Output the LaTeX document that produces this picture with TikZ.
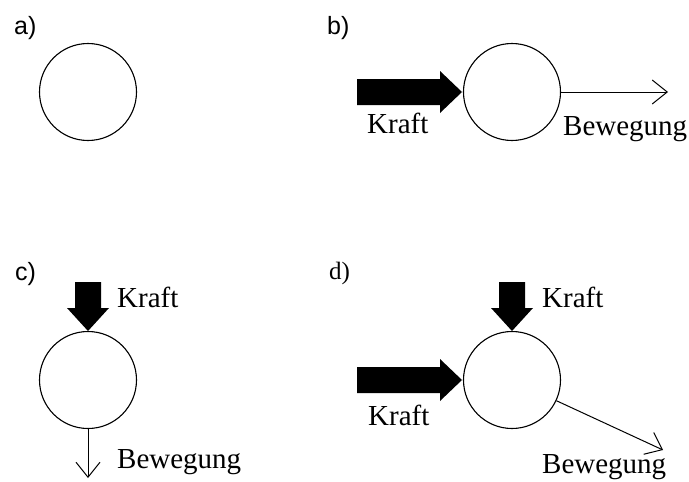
\documentclass[tikz,border=0pt]{standalone}
\usepackage{fontspec}
\setmainfont{Liberation Serif}
\newfontfamily\labfont{Liberation Sans}
\usetikzlibrary{arrows.meta}
\begin{document}
\begin{tikzpicture}[x=1pt,y=-1pt,
  ball/.style={circle,draw,line width=1.1pt,minimum size=97pt,inner sep=0pt},
  thin/.style={line width=1pt,-{Straight Barb[length=15pt,width=24pt,line width=1pt]}},
  txt/.style={anchor=base west,inner sep=0pt,font=\fontsize{29}{32}\selectfont},
  lab/.style={anchor=base west,inner sep=0pt,font=\labfont\fontsize{25}{27}\selectfont},
  force/.style={fill=black,draw=none}]
\useasboundingbox (0,0) rectangle (689,482);
% a)
\node[lab] (la) at (14,34) {a)};
\node[ball] (ca) at (88,92) {};
% b)
\node[lab] (lb) at (327,34) {b)};
\node[ball] (cb) at (512,92) {};
\fill[force] (357,79) -- (440,79) -- (440,71) -- (462,92) -- (440,113) -- (440,105) -- (357,105) -- cycle;
\coordinate (eb) at (668,92);
\draw[thin] (cb.east) -- (eb);
\node[txt] (kb) at (367,133) {Kraft};
\node[txt] (bb) at (563,135) {Bewegung};
% c)
\node[lab] (lc) at (15,280) {c)};
\node[ball] (cc) at (88,380) {};
\fill[force] (75,282) -- (101,282) -- (101,308) -- (109,308) -- (88,331) -- (67,308) -- (75,308) -- cycle;
\coordinate (ec) at (88,478);
\draw[thin] (cc.south) -- (ec);
\node[txt] (kc) at (117,307) {Kraft};
\node[txt] (bc) at (117,468) {Bewegung};
% d)
\node[anchor=base west,inner sep=0pt,font=\fontsize{25}{27}\selectfont] (ld) at (329,279) {d)};
\node[ball] (cd) at (512,380) {};
\fill[force] (357,367) -- (440,367) -- (440,359) -- (462,380) -- (440,401) -- (440,393) -- (357,393) -- cycle;
\fill[force] (499,282) -- (525,282) -- (525,308) -- (533,308) -- (512,331) -- (491,308) -- (499,308) -- cycle;
\coordinate (ed) at (663,450);
\draw[thin] (cd.-25) -- (ed);
\node[txt] (kd1) at (542,307) {Kraft};
\node[txt] (kd2) at (368,425) {Kraft};
\node[txt] (bd) at (542,473) {Bewegung};
\end{tikzpicture}
\end{document}
